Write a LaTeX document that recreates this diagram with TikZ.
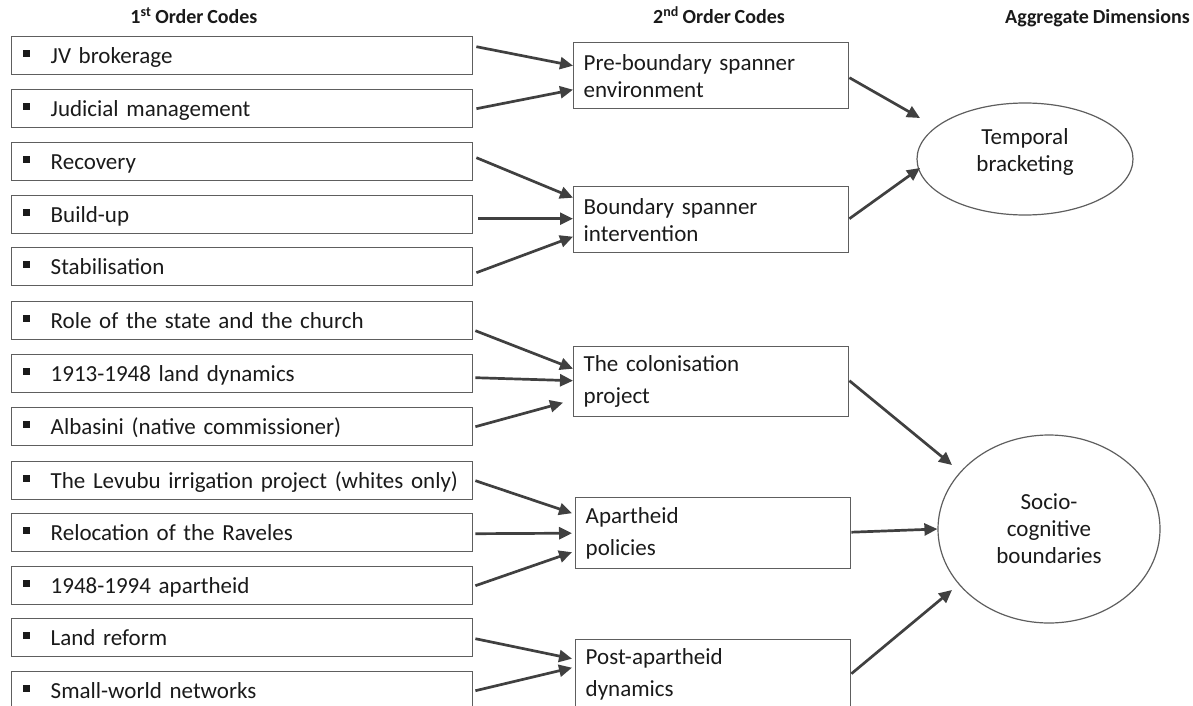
\documentclass[tikz,border=0pt]{standalone}
\usepackage{fontspec}
\setmainfont{Carlito}[WordSpace=0.85]
\usetikzlibrary{arrows.meta,shapes.geometric}

\definecolor{boxgray}{HTML}{5E5E5E}
\definecolor{arrowgray}{HTML}{404040}
\definecolor{ink}{HTML}{1A1A1A}

\newcommand{\codebullet}{\raisebox{6.5pt}{\rule{7pt}{7pt}}\hspace{21pt}}

\begin{document}
\begin{tikzpicture}[x=1pt,y=-1pt,
  every node/.style={text=ink},
  header/.style={font=\fontsize{20}{24}\selectfont\bfseries, inner sep=0pt, anchor=base},
  code/.style={draw=boxgray, line width=1.4pt, anchor=north west,
    minimum height=38pt, text width=439pt, inner xsep=11pt, inner ysep=0pt,
    text height=21pt, text depth=5pt, align=left,
    font=\fontsize{23}{27}\selectfont},
  theme/.style={draw=boxgray, line width=1.4pt, anchor=north west,
    minimum width=275pt, text width=255pt, inner xsep=10pt, inner ysep=0pt,
    align=left, font=\fontsize{23}{27}\selectfont},
  wide/.style={font=\fontsize{23}{32}\selectfont},
  dimension/.style={ellipse, draw=boxgray, line width=1.2pt, inner sep=0pt},
  dimtext/.style={align=center, inner sep=0pt, font=\fontsize{23}{27}\selectfont},
  arr/.style={draw=arrowgray, line width=2.7pt,
    -{Triangle[length=13pt,width=12pt]}}
]
\useasboundingbox (0,0) rectangle (1193,706);

% column headers
\node[header] (h1) at (194,24) {1\textsuperscript{st} Order Codes};
\node[header] (h2) at (719,24) {2\textsuperscript{nd} Order Codes};
\node[header, anchor=base east] (h3) at (1190,24) {Aggregate Dimensions};

% first order codes
\node[code] (c1)  at (11,36)  {\codebullet JV brokerage};
\node[code] (c2)  at (11,89)  {\codebullet Judicial management};
\node[code] (c3)  at (11,142) {\codebullet Recovery};
\node[code] (c4)  at (11,195) {\codebullet Build-up};
\node[code] (c5)  at (11,247) {\codebullet Stabilisation};
\node[code] (c6)  at (11,301) {\codebullet Role of the state and the church};
\node[code] (c7)  at (11,354) {\codebullet 1913-1948 land dynamics};
\node[code] (c8)  at (11,407) {\codebullet Albasini (native commissioner)};
\node[code] (c9)  at (11,461) {\codebullet The Levubu irrigation project (whites only)};
\node[code] (c10) at (11,513) {\codebullet Relocation of the Raveles};
\node[code] (c11) at (11,566) {\codebullet 1948-1994 apartheid};
\node[code] (c12) at (11,618) {\codebullet Land reform};
\node[code] (c13) at (11,671) {\codebullet Small-world networks};

% second order codes
\node[theme, minimum height=66pt] (pre) at (573,42) {Pre-boundary spanner\\environment};
\node[theme, minimum height=66pt] (bsi) at (573,186) {Boundary spanner\\intervention};
\node[theme, wide, minimum height=70pt] (col) at (573,346) {The colonisation\\project};
\node[theme, wide, minimum height=71pt] (apa) at (575,497) {Apartheid\\policies};
\node[theme, wide, minimum height=70pt] (post) at (575,639) {Post-apartheid\\dynamics};

% aggregate dimensions
\node[dimension, minimum width=216pt, minimum height=112pt] (temp) at (1025,159) {};
\node[dimtext] (templabel) at ([yshift=7pt]temp.center) {Temporal\\bracketing};
\node[dimension, minimum width=222pt, minimum height=188pt] (socio) at (1049,529) {};
\node[dimtext] (sociolabel) at (socio.center) {Socio-\\cognitive\\boundaries};

% first order -> second order
\draw[arr] ([xshift=3pt,yshift=9pt]c1.east)   -- ([yshift=10pt]pre.west);
\draw[arr] ([xshift=3pt]c2.east)              -- ([yshift=-14pt]pre.west);
\draw[arr] ([xshift=3pt,yshift=4pt]c3.east)   -- ([yshift=22pt]bsi.west);
\draw[arr] ([xshift=5pt,yshift=-4pt]c4.east)  -- ([yshift=1pt]bsi.west);
\draw[arr] ([xshift=3pt,yshift=-6pt]c5.east)  -- ([yshift=-17pt]bsi.west);
\draw[arr] ([xshift=2pt,yshift=-10pt]c6.east) -- ([yshift=13pt]col.west);
\draw[arr] ([xshift=2pt,yshift=-4pt]c7.east)  -- ([yshift=1pt]col.west);
\draw[arr] ([xshift=2pt]c8.east)              -- ([xshift=-10pt,yshift=-21pt]col.west);
\draw[arr] ([xshift=2pt]c9.east)              -- ([xshift=-3pt,yshift=20pt]apa.west);
\draw[arr] ([xshift=2pt,yshift=-1pt]c10.east) -- ([xshift=-3pt]apa.west);
\draw[arr] ([xshift=2pt]c11.east)             -- ([xshift=-3pt,yshift=-19pt]apa.west);
\draw[arr] ([xshift=2pt,yshift=-1pt]c12.east) -- ([xshift=-3pt,yshift=16pt]post.west);
\draw[arr] ([xshift=2pt]c13.east)             -- ([xshift=-3pt,yshift=7pt]post.west);

% second order -> aggregate dimensions
\draw[arr] ([yshift=-2pt]pre.east)  -- ([xshift=-105pt,yshift=41pt]temp.center);
\draw[arr] ([yshift=1pt]bsi.east)   -- ([xshift=-105pt,yshift=-9pt]temp.center);
\draw[arr] ([yshift=1pt]col.east)   -- ([xshift=-97pt,yshift=64pt]socio.center);
\draw[arr] ([yshift=1pt]apa.east)   -- (socio.west);
\draw[arr] ([yshift=1pt]post.east)  -- ([xshift=-97pt,yshift=-61pt]socio.center);
\end{tikzpicture}
\end{document}
